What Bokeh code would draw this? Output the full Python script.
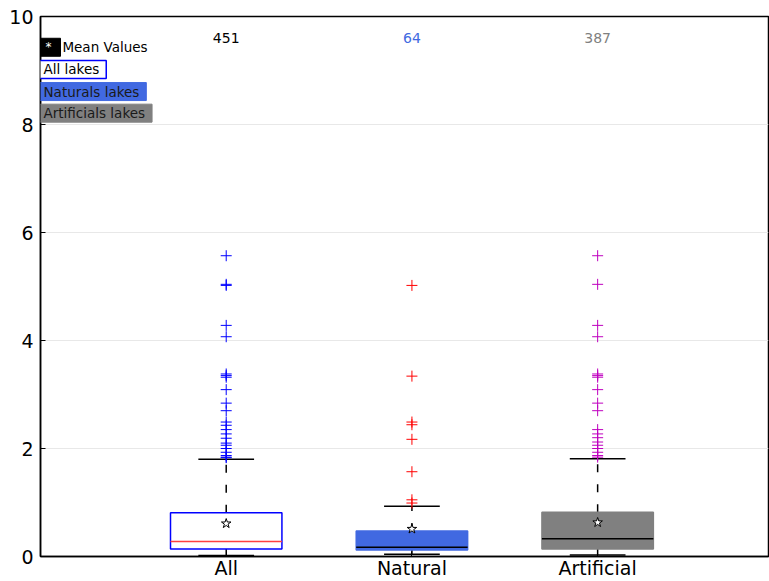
from bokeh.plotting import figure
from bokeh.models import Range1d, FixedTicker, Label, ColumnDataSource
from bokeh.embed import file_html
from bokeh.resources import INLINE

categories = ["All", "Natural", "Artificial"]
positions = [1, 2, 3]
counts = ["451", "64", "387"]
q1 = [0.14, 0.12, 0.14]
median = [0.28, 0.17, 0.33]
q3 = [0.81, 0.47, 0.82]
whisk_lo = [0.02, 0.04, 0.03]
whisk_hi = [1.80, 0.93, 1.81]
means = [0.61, 0.51, 0.63]

out_all = [5.57, 5.04, 5.02, 4.28, 4.07, 3.38, 3.35, 3.32, 3.09, 2.84, 2.70, 2.49, 2.43,
           2.35, 2.27, 2.19, 2.10, 2.06, 2.00, 1.93, 1.87, 1.84, 1.83]
out_nat = [5.02, 3.34, 2.49, 2.44, 2.17, 1.57, 1.05, 0.99]
out_art = [5.57, 5.04, 4.28, 4.07, 3.38, 3.35, 3.32, 3.09, 2.84, 2.70, 2.35, 2.27, 2.20,
           2.12, 2.06, 2.00, 1.93, 1.87, 1.84]

box_fill = ["white", "#4169E1", "#808080"]
box_line = ["#0000FF", "#4169E1", "#808080"]
median_color = ["#FF4040", "#000000", "#000000"]
out_colors = ["#0000FF", "#FF0000", "#BF00BF"]
count_colors = ["#000000", "#4169E1", "#808080"]

FONT = "DejaVu Sans"

p = figure(width=769, height=581, output_backend="svg", toolbar_location=None,
           x_range=Range1d(0, 3.92), y_range=Range1d(0, 10),
           min_border_left=40, min_border_right=1, min_border_top=16, min_border_bottom=25)
p.outline_line_color = "black"
p.outline_line_width = 1.5
p.background_fill_color = "white"
p.xgrid.grid_line_color = None
p.ygrid.grid_line_color = "#e8e8e8"
p.ygrid.ticker = FixedTicker(ticks=[2, 4, 6, 8])

p.yaxis.ticker = FixedTicker(ticks=[0, 2, 4, 6, 8, 10])
p.xaxis.ticker = FixedTicker(ticks=positions)
p.xaxis.major_label_overrides = {pos: c for pos, c in zip(positions, categories)}
for ax in (p.xaxis[0], p.yaxis[0]):
    ax.major_label_text_font = FONT
    ax.major_label_text_font_size = "19px"
    ax.major_label_text_color = "black"
    ax.axis_line_color = "black"
    ax.axis_line_width = 1.5
    ax.major_tick_in = 5
    ax.major_tick_out = 0
    ax.minor_tick_line_color = None
    ax.major_tick_line_color = "black"
p.xaxis.major_label_standoff = 0
p.yaxis.major_label_standoff = 7

hw = 0.3
cw = 0.15
src = ColumnDataSource(dict(x=positions, q1=q1, q3=q3, med=median, lo=whisk_lo, hi=whisk_hi,
                            mean=means, fill=box_fill, line=box_line, mc=median_color,
                            l=[x - hw for x in positions], r=[x + hw for x in positions],
                            cl=[x - cw for x in positions], cr=[x + cw for x in positions]))

# whiskers
p.segment("x", "q3", "x", "hi", source=src, line_color="black", line_width=1.5, line_dash="8 12")
p.segment("x", "lo", "x", "q1", source=src, line_color="black", line_width=1.5, line_dash="8 12")
p.segment("cl", "hi", "cr", "hi", source=src, line_color="black", line_width=1.5)
p.segment("cl", "lo", "cr", "lo", source=src, line_color="black", line_width=1.5)

# boxes
p.quad(left="l", right="r", bottom="q1", top="q3", source=src,
       fill_color="fill", line_color="line", line_width=1.5)
p.segment("l", "med", "r", "med", source=src, line_color="mc", line_width=1.5)

# outliers
for pos, outs, col in zip(positions, [out_all, out_nat, out_art], out_colors):
    p.scatter([pos] * len(outs), outs, marker="cross", size=11, line_color=col, line_width=1)

# means
p.scatter("x", "mean", source=src, marker="star", size=10, fill_color="white",
          line_color="black", line_width=1)

# counts
for pos, c, col in zip(positions, counts, count_colors):
    p.add_layout(Label(x=pos, y=9.61, text=c, text_color=col, text_font=FONT,
                       text_font_size="14px", text_align="center", text_baseline="middle"))

# legend-like boxes
LX = -0.0215
p.add_layout(Label(x=LX, y=9.43, text="*", text_color="white", text_font=FONT,
                   text_font_size="12px", text_baseline="middle",
                   background_fill_color="black", border_line_color="black", padding=(9, 2)))
p.add_layout(Label(x=0.118, y=9.43, text="Mean Values", text_color="black", text_font=FONT,
                   text_font_size="13.5px", text_baseline="middle"))
p.add_layout(Label(x=LX, y=9.02, text="All lakes", text_color="black", text_font=FONT,
                   text_font_size="13.5px", text_baseline="middle",
                   background_fill_color="white", border_line_color="#0000FF",
                   border_line_width=1.5, padding=(7, 1)))
p.add_layout(Label(x=LX, y=8.61, text="Naturals lakes", text_color="#1a1a1a", text_font=FONT,
                   text_font_size="13.5px", text_baseline="middle",
                   background_fill_color="#4169E1", border_line_color="#4169E1", padding=(7, 1)))
p.add_layout(Label(x=LX, y=8.21, text="Artificials lakes", text_color="#1a1a1a", text_font=FONT,
                   text_font_size="13.5px", text_baseline="middle",
                   background_fill_color="#808080", border_line_color="#808080", padding=(7, 1)))

open("out.html", "w").write(file_html(p, INLINE))
